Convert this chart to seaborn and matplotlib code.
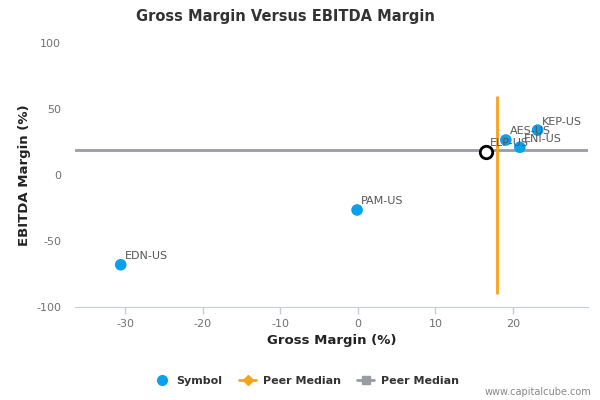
import pandas as pd
import seaborn as sns
import matplotlib.pyplot as plt
from matplotlib.lines import Line2D

symbols = ['EDN-US', 'PAM-US', 'AES-US', 'ENI-US', 'KEP-US']
gross_margin = [-30.6, -0.1, 19.1, 20.9, 23.2]
ebitda_margin = [-68.0, -26.5, 26.5, 21.0, 34.0]

focus_symbol = 'ELP-US'
focus_gross = 16.5
focus_ebitda = 17.4

peer_median_gross = 17.9
peer_median_ebitda = 19.0
vline_span = [-89.5, 59.0]

x_ticks = [-30, -20, -10, 0, 10, 20]
y_ticks = [-100, -50, 0, 50, 100]

BLUE = '#0ba0ef'
ORANGE = '#f9a11b'
GRAY = '#989ca6'
AXIS = '#c0cfe0'


def main():
    sns.set_style('white')
    plt.rcParams['font.family'] = ['DejaVu Sans']

    df = pd.DataFrame({'Symbol': symbols, 'Gross': gross_margin, 'EBITDA': ebitda_margin})

    fig = plt.figure(figsize=(6, 4), dpi=100)
    ax = fig.add_axes([0.125, 0.2325, 0.855, 0.66])

    ax.axhline(peer_median_ebitda, color=GRAY, lw=2, zorder=1)
    ax.plot([peer_median_gross, peer_median_gross], vline_span, color=ORANGE, lw=2, zorder=1)

    sns.scatterplot(x='Gross', y='EBITDA', data=df, ax=ax, color=BLUE, s=70,
                    edgecolor='none', zorder=3, legend=False)
    ax.scatter([focus_gross], [focus_ebitda], s=80, facecolor='white',
               edgecolor='black', linewidth=2, zorder=4)

    for name, x, y in zip(symbols, gross_margin, ebitda_margin):
        ax.annotate(name, (x, y), xytext=(3, 4), textcoords='offset points',
                    fontsize=8, color='#555555', zorder=5)
    ax.annotate(focus_symbol, (focus_gross, focus_ebitda), xytext=(3, 4),
                textcoords='offset points', fontsize=8, color='#555555', zorder=5)

    ax.set_xlim(-36.5, 29.7)
    ax.set_ylim(-100, 100)
    ax.set_xticks(x_ticks)
    ax.set_yticks(y_ticks)
    ax.set_xticklabels([str(t) for t in x_ticks])
    ax.set_yticklabels([str(t) for t in y_ticks])

    for side in ['top', 'right', 'left']:
        ax.spines[side].set_visible(False)
    ax.spines['bottom'].set_color(AXIS)
    ax.tick_params(axis='x', colors='#707070', labelsize=8, length=5, width=1,
                   color=AXIS, direction='out', bottom=True)
    ax.tick_params(axis='y', colors='#707070', labelsize=8, length=0, pad=10)

    ax.set_xlabel('Gross Margin (%)', fontsize=9.5, fontweight='bold', color='#222222')
    ax.set_ylabel('EBITDA Margin (%)', fontsize=9.5, fontweight='bold', color='#222222')

    fig.text(0.475, 0.96, 'Gross Margin Versus EBITDA Margin', ha='center', va='center',
             fontsize=10.5, fontweight='bold', color='#333333')

    handles = [
        Line2D([], [], marker='o', ls='none', color=BLUE, markersize=7),
        Line2D([], [], marker='D', color=ORANGE, lw=2, markersize=5),
        Line2D([], [], marker='s', color=GRAY, lw=2, markersize=6),
    ]
    leg = fig.legend(handles, ['Symbol', 'Peer Median', 'Peer Median'], loc='center',
                     bbox_to_anchor=(0.51, 0.047), ncol=3, frameon=False, fontsize=8,
                     handlelength=1.5, columnspacing=1.5, handletextpad=0.6)
    for t in leg.get_texts():
        t.set_fontweight('bold')
        t.set_color('#333333')

    fig.text(0.985, 0.02, 'www.capitalcube.com', ha='right', va='center',
             fontsize=7, color='#888888')

    fig.savefig('out.png', dpi=100)


if __name__ == '__main__':
    main()
